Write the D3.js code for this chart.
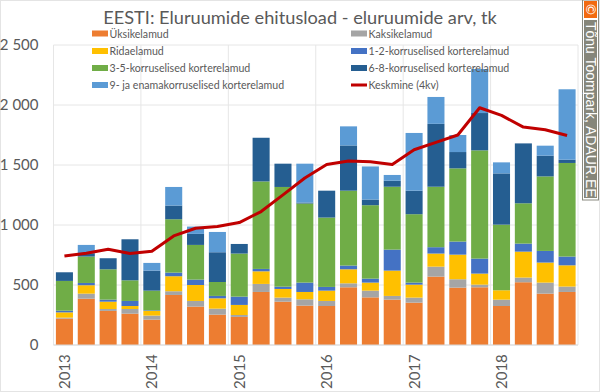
<!DOCTYPE html>
<html>
<head>
<meta charset="utf-8">
<script src="https://cdn.jsdelivr.net/npm/d3@7"></script>
<style>
  html, body { margin: 0; padding: 0; background: #fff; }
  svg { display: block; font-family: Lato, "Open Sans", sans-serif; }
</style>
</head>
<body>
<svg></svg>
<script>
const quarters = [
  "2013Q1","2013Q2","2013Q3","2013Q4","2014Q1","2014Q2","2014Q3","2014Q4",
  "2015Q1","2015Q2","2015Q3","2015Q4","2016Q1","2016Q2","2016Q3","2016Q4",
  "2017Q1","2017Q2","2017Q3","2017Q4","2018Q1","2018Q2","2018Q3","2018Q4"
];
const yearLabels = ["2013","2014","2015","2016","2017","2018"];
const yTicks = [0, 500, 1000, 1500, 2000, 2500];

const seriesNames = [
  "Üksikelamud", "Kaksikelamud", "Ridaelamud", "1-2-korruselised korterelamud",
  "3-5-korruselised korterelamud", "6-8-korruselised korterelamud", "9- ja enamakorruselised korterelamud"
];
const seriesColors = ["#ed7d31", "#a5a5a5", "#ffc000", "#4472c4", "#70ad47", "#255e91", "#5b9bd5"];

const yksik = [220,386,284,261,211,417,320,253,234,442,361,328,325,481,397,378,353,570,478,481,325,523,428,442];
const kaksik = [8,42,16,39,34,31,47,50,16,67,34,53,42,33,56,31,42,83,70,22,53,39,92,45];
const rida = [44,70,61,25,39,125,133,86,84,105,72,61,86,117,67,211,108,109,205,92,78,216,167,177];
const k12 = [14,19,17,42,5,30,45,20,69,20,19,78,31,31,33,175,17,53,109,125,0,67,97,73];
const k35 = [248,220,253,172,164,445,289,116,359,729,831,659,578,624,612,524,570,504,610,902,547,336,621,780];
const k68 = [72,28,92,342,167,114,92,248,80,364,194,8,224,377,47,50,196,524,136,311,427,499,173,27];
const k9 = [0,69,0,0,64,155,61,169,0,0,0,324,0,159,276,48,481,224,142,367,92,0,83,587];
const keskmine = [742,765,798,762,781,909,973,987,1020,1112,1251,1392,1505,1533,1527,1505,1627,1688,1750,1977,1913,1816,1794,1746];

const seriesValues = [yksik, kaksik, rida, k12, k35, k68, k9];

const width = 600, height = 392;
const margin = {top: 45, right: 22, bottom: 47, left: 53.5};

const svg = d3.select("svg").attr("width", width).attr("height", height);

// outer frame of the picture
svg.append("rect").attr("x", 0.5).attr("y", 0.5).attr("width", width - 1).attr("height", height - 1)
  .attr("fill", "#fff").attr("stroke", "#e4e4e4");

const x = d3.scaleBand().domain(quarters)
  .range([margin.left, width - margin.right]).paddingInner(0.22).paddingOuter(0.11);
const y = d3.scaleLinear().domain([0, 2500]).range([height - margin.bottom, margin.top]);

// every fourth band starts a year
const yearEdge = i => margin.left + i * x.step();

const gridY = svg.append("g");
gridY.selectAll("line").data(yTicks).join("line")
  .attr("x1", margin.left).attr("x2", width - margin.right)
  .attr("y1", d => y(d)).attr("y2", d => y(d))
  .attr("stroke", "#e6e6e6").attr("stroke-width", 1);

const gridX = svg.append("g");
gridX.selectAll("line").data(d3.range(0, 25, 4)).join("line")
  .attr("x1", yearEdge).attr("x2", yearEdge)
  .attr("y1", margin.top).attr("y2", height - margin.bottom)
  .attr("stroke", "#e6e6e6").attr("stroke-width", 1);

const table = quarters.map((q, i) => {
  const row = {q};
  seriesNames.forEach((n, s) => { row[n] = seriesValues[s][i]; });
  return row;
});
const stacked = d3.stack().keys(seriesNames)(table);

svg.append("g").selectAll("g").data(stacked).join("g")
  .attr("fill", (d, i) => seriesColors[i])
  .selectAll("rect").data(d => d).join("rect")
  .attr("x", d => x(d.data.q))
  .attr("width", x.bandwidth())
  .attr("y", d => y(d[1]))
  .attr("height", d => y(d[0]) - y(d[1]));

const line = d3.line()
  .x((d, i) => x(quarters[i]) + x.bandwidth() / 2)
  .y(d => y(d));

svg.append("path").datum(keskmine)
  .attr("fill", "none").attr("stroke", "#c00000").attr("stroke-width", 3)
  .attr("stroke-linejoin", "round").attr("d", line);

// y axis
const yAxis = svg.append("g")
  .attr("transform", "translate(" + margin.left + ",0)")
  .call(d3.axisLeft(y).tickValues(yTicks).tickSize(0).tickPadding(15)
    .tickFormat(d => d3.format(",")(d).replace(",", " ")));
yAxis.select(".domain").remove();
yAxis.selectAll("text").attr("fill", "#595959").style("font-size", "15px").style("font-family", "Lato");

// x axis, one label per year
const xAxis = svg.append("g")
  .attr("transform", "translate(0," + (height - margin.bottom) + ")");
xAxis.append("line").attr("x1", margin.left).attr("x2", width - margin.right)
  .attr("stroke", "#d9d9d9");
xAxis.selectAll("text").data(yearLabels).join("text")
  .attr("transform", (d, i) => "translate(" + (x(quarters[i * 4]) + x.bandwidth() / 2 + 5.5) + ",44) rotate(-90)")
  .attr("fill", "#595959").style("font-size", "15px")
  .text(d => d);

svg.append("text").attr("x", 300).attr("y", 24).attr("text-anchor", "middle")
  .attr("fill", "#595959").style("font-size", "18.2px").text("EESTI: Eluruumide ehitusload - eluruumide arv, tk");

// legend
const legendRows = [
  {name: seriesNames[0], color: seriesColors[0], lx: 92, ly: 33.5},
  {name: seriesNames[1], color: seriesColors[1], lx: 351, ly: 33.5},
  {name: seriesNames[2], color: seriesColors[2], lx: 92, ly: 51},
  {name: seriesNames[3], color: seriesColors[3], lx: 351, ly: 51},
  {name: seriesNames[4], color: seriesColors[4], lx: 92, ly: 68},
  {name: seriesNames[5], color: seriesColors[5], lx: 351, ly: 68},
  {name: seriesNames[6], color: seriesColors[6], lx: 92, ly: 85},
  {name: "Keskmine (4kv)", color: "#c00000", lx: 351, ly: 85, isLine: true}
];
const legend = svg.append("g").selectAll("g").data(legendRows).join("g")
  .attr("transform", d => "translate(" + d.lx + "," + d.ly + ")");
legend.append("rect")
  .attr("y", d => d.isLine ? -1.5 : -3)
  .attr("width", 16)
  .attr("height", d => d.isLine ? 3 : 6)
  .attr("fill", d => d.color);
legend.append("text").attr("x", 17.5).attr("y", 4)
  .attr("fill", "#595959").style("font-size", "10.6px").text(d => d.name);

// copyright strip on the right edge
const strip = svg.append("g");
strip.append("rect").attr("x", 582.5).attr("y", 0).attr("width", 16).attr("height", 200)
  .attr("fill", "#fff").attr("stroke", "#8a8a80");
strip.append("rect").attr("x", 584).attr("y", 1).attr("width", 13).attr("height", 17).attr("fill", "#f26a10");
strip.append("rect").attr("x", 584).attr("y", 20).attr("width", 13).attr("height", 178).attr("fill", "#86867a");
strip.append("text").attr("transform", "translate(586,4) rotate(90)")
  .attr("fill", "#fff").style("font-size", "13px").text("©");
strip.append("text").attr("transform", "translate(586,22) rotate(90)")
  .attr("fill", "#fff").style("font-size", "14px").style("font-family", "Liberation Sans")
  .text("Tõnu Toompark, ADAUR.EE");
</script>
</body>
</html>
